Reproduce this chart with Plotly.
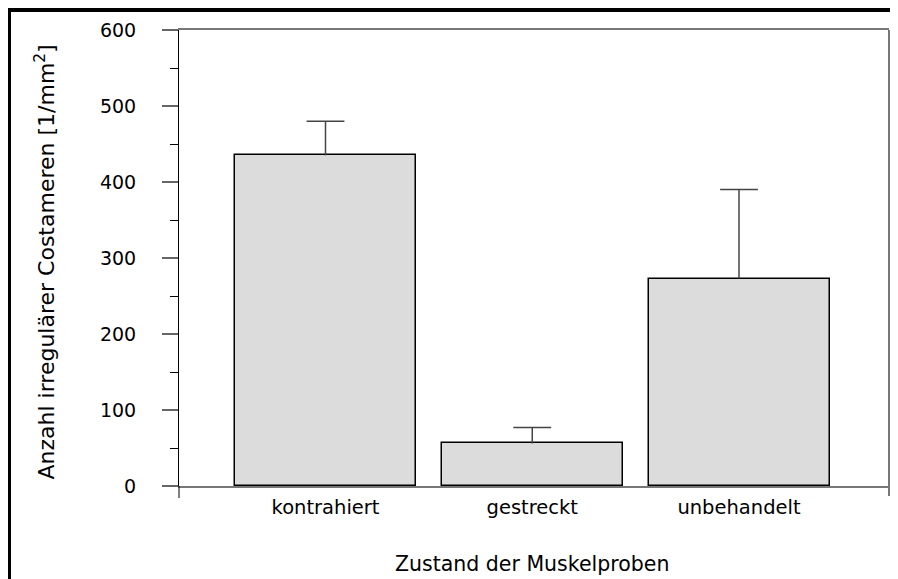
import plotly.graph_objects as go

categories = ["kontrahiert", "gestreckt", "unbehandelt"]
means = [435, 56, 273]
errors = [45, 21, 117]

y_ticks = [0, 100, 200, 300, 400, 500, 600]

FONT = "DejaVu Sans, sans-serif"

# figure is offset by the page's 8px body margin; size/margins compensate
W, H = 890, 571
L, R, T, B = 171, 9, 22, 93
PW, PH = W - L - R, H - T - B


def px(fx):
    return (fx - L) / PW


def py(fy):
    return (H - B - fy) / PH


cap_tops = [m + e for m, e in zip(means, errors)]

fig = go.Figure()
fig.add_trace(go.Bar(
    x=[0, 1, 2],
    y=means,
    width=0.8755,
    marker=dict(color="#dcdcdc", line=dict(color="#000000", width=1.5)),
    error_y=dict(type="data", symmetric=False, array=errors,
                 arrayminus=[0] * len(errors), width=0,
                 thickness=1.5, color="#444444"),
    showlegend=False,
    hoverinfo="skip",
))
# error-bar caps (top only)
fig.add_trace(go.Scatter(
    x=[0, 1, 2], y=cap_tops, mode="markers",
    marker=dict(symbol="line-ew", size=27,
                line=dict(color="#444444", width=1.5)),
    showlegend=False, hoverinfo="skip",
))

fig.update_layout(
    width=W, height=H,
    margin=dict(l=L, r=R, t=T, b=B, autoexpand=False),
    paper_bgcolor="white", plot_bgcolor="white",
    font=dict(family=FONT, color="#000000", size=19),
    bargap=0,
)

fig.update_xaxes(
    range=[-0.7086, 2.7255],
    tickmode="array", tickvals=[0, 1, 2], ticktext=categories,
    ticks="", showgrid=False, zeroline=False,
    showline=True, linecolor="#777777", linewidth=1.5, mirror=True,
    tickfont=dict(size=19.5, family=FONT),
    ticklabelstandoff=3,
    automargin=False,
)

fig.update_yaxes(
    range=[0, 600],
    tickmode="array", tickvals=y_ticks,
    ticks="outside", ticklen=16, tickwidth=1.5, tickcolor="#666666",
    minor=dict(ticks="outside", ticklen=8, tickwidth=1, tickcolor="#000000",
               tick0=0, dtick=50, showgrid=False),
    showgrid=False, zeroline=False,
    showline=True, linecolor="#000000", linewidth=1, mirror=False,
    tickfont=dict(size=19, family=FONT),
    ticklabelstandoff=22,
    automargin=False,
)

# axis titles
fig.add_annotation(text="Zustand der Muskelproben", xref="paper", yref="paper",
                   x=px(523.5), y=py(556), xanchor="center", yanchor="middle",
                   showarrow=False, font=dict(size=20.5, family=FONT))
fig.add_annotation(text="Anzahl irregulärer Costameren [1/mm<sup>2</sup>]",
                   xref="paper", yref="paper",
                   x=px(36), y=py(254.5), xanchor="center", yanchor="middle",
                   textangle=-90, showarrow=False, font=dict(size=22, family=FONT))

# frame decorations (paper coordinates)
fig.add_shape(type="line", xref="paper", yref="paper", x0=0, x1=0, y0=py(H - B + 12), y1=0,
              line=dict(color="#000000", width=1))
fig.add_shape(type="line", xref="paper", yref="paper", x0=1, x1=1, y0=py(H - B + 10), y1=1,
              line=dict(color="#777777", width=2))
# outer black border
fig.add_shape(type="rect", xref="paper", yref="paper",
              x0=px(1), x1=px(905), y0=py(600), y1=py(2),
              line=dict(color="#000000", width=4), fillcolor="rgba(0,0,0,0)")

fig.write_html("out.html")
